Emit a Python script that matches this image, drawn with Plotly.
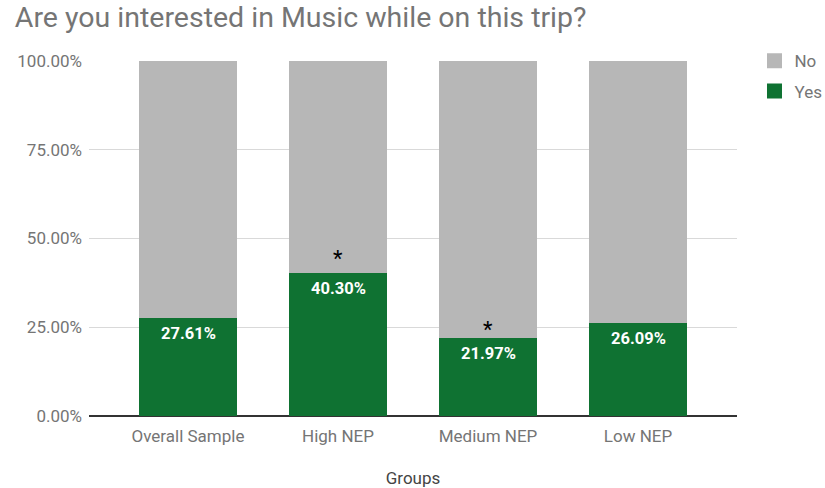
import plotly.graph_objects as go

groups = ["Overall Sample", "High NEP", "Medium NEP", "Low NEP"]
yes_pct = [27.61, 40.30, 21.97, 26.09]
no_pct = [100 - v for v in yes_pct]
# height (in %) at which a significance asterisk is shown, None for no marker
star_at = [None, 45.4, 25.4, None]
y_ticks = [0, 25, 50, 75, 100]

FONT = "Roboto, Arial, sans-serif"
GREY_TEXT = "#757575"
GREEN = "#0f7232"
GREY_BAR = "#b7b7b7"

fig = go.Figure()
fig.add_trace(go.Bar(
    x=groups, y=yes_pct, name="Yes", legendgroup="yes", showlegend=False,
    marker=dict(color=GREEN, line=dict(width=0)),
    hoverinfo="skip",
))
fig.add_trace(go.Bar(
    x=groups, y=no_pct, name="No", legendgroup="no", showlegend=False,
    marker=dict(color=GREY_BAR, line=dict(width=0)),
    hoverinfo="skip",
))

# legend entries with larger square swatches
for name, color, rank in [("No", GREY_BAR, 1), ("Yes", GREEN, 2)]:
    fig.add_trace(go.Scatter(
        x=[None], y=[None], mode="markers", name=name,
        legendgroup=name.lower(), legendrank=rank,
        marker=dict(symbol="square", size=15, color=color),
    ))

# value labels just inside the top of each green segment
for g, v in zip(groups, yes_pct):
    fig.add_annotation(
        x=g, y=v, text=f"<b>{v:.2f}%</b>", showarrow=False,
        yanchor="top", yshift=-4,
        font=dict(family=FONT, size=16.5, color="white"),
    )

# significance markers
for g, s in zip(groups, star_at):
    if s is not None:
        fig.add_annotation(
            x=g, y=s, text="*", showarrow=False,
            yanchor="middle", yshift=-4,
            font=dict(family=FONT, size=22, color="black"),
        )

fig.update_layout(
    width=825, height=488,
    barmode="stack", bargap=0.353,
    paper_bgcolor="white", plot_bgcolor="white",
    margin=dict(l=89, r=88, t=61, b=72, autoexpand=False),
    title=dict(
        text="Are you interested in Music while on this trip?",
        x=0.018, xanchor="left", y=0.965, yanchor="middle",
        font=dict(family=FONT, size=28.5, color=GREY_TEXT),
    ),
    legend=dict(
        x=1.027, xanchor="left", y=1.05, yanchor="top",
        traceorder="grouped",
        font=dict(family=FONT, size=17, color=GREY_TEXT),
        itemwidth=30, tracegroupgap=5,
    ),
    font=dict(family=FONT, size=16, color=GREY_TEXT),
    showlegend=True,
)

fig.update_xaxes(
    range=[-0.66, 3.66], showgrid=False, showline=False,
    ticks="", ticklabelstandoff=8,
    tickfont=dict(family=FONT, size=17, color=GREY_TEXT),
    title=dict(text="Groups", font=dict(family=FONT, size=17, color="#444444"), standoff=28),
)
fig.update_yaxes(
    range=[0, 100], tickvals=y_ticks,
    ticktext=[f"{t:.2f}%" for t in y_ticks],
    showgrid=True, gridcolor="#d9d9d9", gridwidth=1,
    zeroline=True, zerolinecolor="#333333", zerolinewidth=1.5,
    ticks="", ticklabelstandoff=6,
    tickfont=dict(family=FONT, size=17, color=GREY_TEXT),
)

fig.write_html("out.html")
